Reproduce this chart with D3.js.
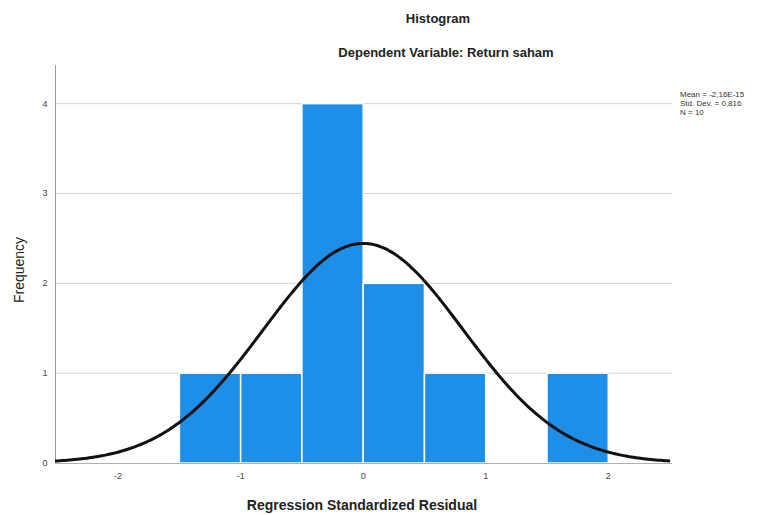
<!DOCTYPE html>
<html><head><meta charset="utf-8">
<script src="https://cdn.jsdelivr.net/npm/d3@7"></script>
<style>body{margin:0;background:#fff}svg{display:block;font-family:"Liberation Sans",Arial,sans-serif}</style>
</head><body><svg id="c" width="774" height="515"></svg>
<script>
const binStarts = [-1.5, -1.0, -0.5, 0.0, 0.5, 1.0, 1.5];
const binWidth = 0.5;
const counts = [1, 1, 4, 2, 1, 0, 1];
const yTicks = [0, 1, 2, 3, 4];
const xTicks = [-2, -1, 0, 1, 2];
const stats = ["Mean = -2,16E-15", "Std. Dev. = 0,816", "N = 10"];
const meanV = 0, sdV = 0.816, nV = 10;

const svg = d3.select("#c");
const x = d3.scaleLinear().domain([-2.515, 2.52]).range([55, 672]);
const y = d3.scaleLinear().domain([0, 4.43]).range([463, 65]);

// grid
svg.append("g").selectAll("line").data(yTicks.filter(d=>d>0)).join("line")
  .attr("x1", 55).attr("x2", 672).attr("y1", d=>y(d)).attr("y2", d=>y(d))
  .attr("stroke", "#d4d4d4").attr("stroke-width", 1);

// bars
svg.append("g").selectAll("rect").data(binStarts.map((s,i)=>({s, c:counts[i]})).filter(d=>d.c>0)).join("rect")
  .attr("x", d=>x(d.s)).attr("width", d=>x(d.s+binWidth)-x(d.s))
  .attr("y", d=>y(d.c)).attr("height", d=>y(0)-y(d.c))
  .attr("fill", "#1e8fe8").attr("stroke", "#fff").attr("stroke-width", 1.5);

// axes lines
svg.append("line").attr("x1",55.5).attr("x2",55.5).attr("y1",65).attr("y2",463).attr("stroke","#9a9a9a");
svg.append("line").attr("x1",55).attr("x2",672).attr("y1",463.5).attr("y2",463.5).attr("stroke","#b0b0b0");

// normal curve
const pts = d3.range(-2.515, 2.5201, 0.02).map(v => [v, nV*binWidth/(sdV*Math.sqrt(2*Math.PI))*Math.exp(-0.5*((v-meanV)/sdV)**2)]);
svg.append("path").datum(pts)
  .attr("d", d3.line().x(d=>x(d[0])).y(d=>y(d[1])).curve(d3.curveBasis))
  .attr("fill","none").attr("stroke","#111").attr("stroke-width",3);

// tick labels
svg.append("g").selectAll("text").data(yTicks).join("text")
  .attr("x", 45).attr("y", d=>y(d)+3).attr("text-anchor","middle")
  .attr("font-size", 9).attr("fill","#444").text(d=>d);
svg.append("g").selectAll("text").data(xTicks).join("text")
  .attr("x", d=>x(d)).attr("y", 479).attr("text-anchor","middle")
  .attr("font-size", 9).attr("fill","#444").text(d=>d);

// titles
svg.append("text").attr("x",438).attr("y",23).attr("text-anchor","middle")
  .attr("font-size",13).attr("font-weight","bold").attr("fill","#222").text("Histogram");
svg.append("text").attr("x",446).attr("y",57).attr("text-anchor","middle")
  .attr("font-size",13).attr("font-weight","bold").attr("fill","#222").text("Dependent Variable: Return saham");
svg.append("text").attr("x",362).attr("y",510).attr("text-anchor","middle")
  .attr("font-size",14).attr("font-weight","bold").attr("fill","#222").text("Regression Standardized Residual");
svg.append("text").attr("transform","translate(24,270) rotate(-90)").attr("text-anchor","middle")
  .attr("font-size",14).attr("fill","#222").text("Frequency");

// stats
svg.append("g").selectAll("text").data(stats).join("text")
  .attr("x",680).attr("y",(d,i)=>97+i*9).attr("font-size",8).attr("fill","#333").text(d=>d);
</script></body></html>
